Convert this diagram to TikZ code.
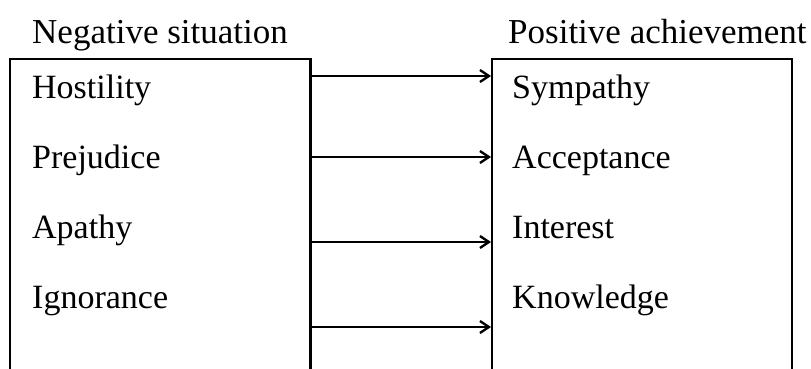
\documentclass[tikz,border=0pt]{standalone}
\usepackage{fontspec}
\setmainfont{Liberation Serif}
\usetikzlibrary{arrows.meta}

\begin{document}
\begin{tikzpicture}[x=1pt, y=-1pt,
    item/.style={anchor=base west, inner sep=0pt, font=\fontsize{34}{40}\selectfont},
    head/.style={anchor=base west, inner sep=0pt, font=\fontsize{35}{42}\selectfont},
    box/.style={line width=2.5pt},
    link/.style={line width=2.3pt, -{Straight Barb[length=9pt, width=12pt]}}]
      \useasboundingbox (0,0) rectangle (811,369);

      % Titles
      \node[head] (neg) at (32,44) {Negative situation};
      \node[head] (pos) at (508,44) {Positive achievement};

      % Boxes (open at the bottom)
      \draw[box] (10,380) -- (10,59) -- (310.5,59) -- (310.5,380);
      \draw[box] (492,380) -- (492,59) -- (792,59) -- (792,380);

      % Terms
      \foreach \i/\negterm/\posterm/\y in {1/Hostility/Sympathy/99, 2/Prejudice/Acceptance/168, 3/Apathy/Interest/238, 4/Ignorance/Knowledge/308} {
        \node[item] (neg\i) at (32,\y) {\negterm};
        \node[item] (pos\i) at (512,\y) {\posterm};
      }

      % Arrows
      \foreach \i/\y in {1/76, 2/157, 3/242, 4/327} {
        \coordinate (from\i) at (310.5,\y);
        \coordinate (to\i) at (491,\y);
        \draw[link] (from\i) -- (to\i);
      }
    \end{tikzpicture}
\end{document}
